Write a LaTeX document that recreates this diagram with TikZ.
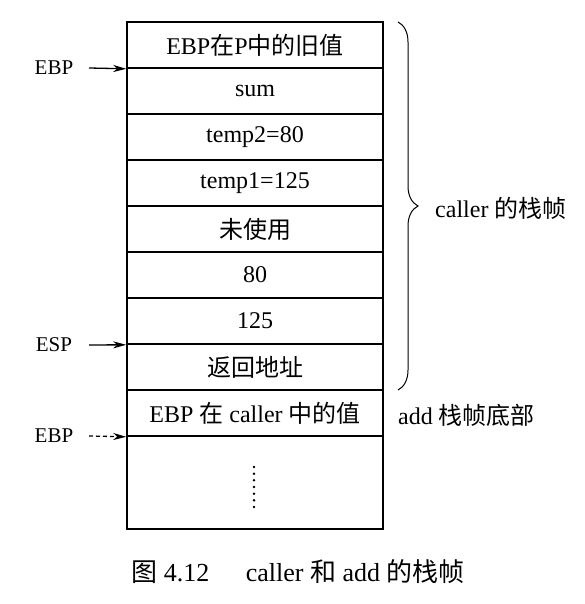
\documentclass[tikz,border=0pt]{standalone}
\usepackage{fontspec}
\setmainfont{Liberation Serif}
\newfontfamily\cjk{Noto Sans CJK SC}
\usetikzlibrary{arrows.meta,decorations.pathreplacing}
\newcommand\zh[1]{{\cjk #1}}
\begin{document}
\begin{tikzpicture}[x=1pt,y=1pt,
  cell/.style={draw, line width=1.6pt, minimum width=256pt, minimum height=46pt, inner sep=0pt, font=\fontsize{24}{28}\selectfont},
  lbl/.style={inner sep=0pt, font=\fontsize{21}{25}\selectfont},
  side/.style={inner sep=0pt, anchor=west, font=\fontsize{24}{28}\selectfont},
  ptr/.style={line width=1.3pt, -{Stealth[length=13pt,width=7pt,inset=4pt]}},
  dptr/.style={ptr, dash pattern=on 4pt off 3pt}]
\fill[white] (0,0) rectangle (584,604);
\useasboundingbox (0,0) rectangle (584,604);
\node[cell] (c1) at (255,559) {EBP\zh{在}P\zh{中的旧值}};
\node[cell] (c2) at (255,513) {sum};
\node[cell] (c3) at (255,467) {temp2=80};
\node[cell] (c4) at (255,421) {temp1=125};
\node[cell] (c5) at (255,375) {\zh{未使用}};
\node[cell] (c6) at (255,329) {80};
\node[cell] (c7) at (255,283) {125};
\node[cell] (c8) at (255,237) {\zh{返回地址}};
\node[cell] (c9) at (255,191) {EBP \zh{在} caller \zh{中的值}};
\node[cell, minimum height=93pt] (c10) at (255,121.5) {};
\foreach \i in {0,...,6} \fill (254,{137-\i*6.67}) circle (1.4pt);
% pointers
\node[lbl] (ebp1) at (54,536) {EBP};
\coordinate (p1) at (89,536);
\draw[ptr] (p1) -- (c1.south west);
\node[lbl] (esp) at (54,259) {ESP};
\coordinate (p2) at (89,259);
\draw[ptr] (p2) -- (c7.south west);
\node[lbl] (ebp2) at (54,168) {EBP};
\coordinate (p3) at (89,168);
\draw[dptr] (p3) -- (c9.south west);
% brace
\coordinate (b1) at (398,582);
\coordinate (b2) at (398,214);
\draw[decorate, decoration={brace, amplitude=20pt}, line width=1pt] (b1) -- (b2);
\node[side] (callerlbl) at (435,396) {caller \zh{的栈帧}};
\node[side] (addlbl) at (398,189) {add \zh{栈帧底部}};
% caption
\node[inner sep=0pt, font=\fontsize{26}{30}\selectfont] (cap) at (298,32) {\zh{图} 4.12\hspace{1.4em}caller \zh{和} add \zh{的栈帧}};
\end{tikzpicture}
\end{document}
